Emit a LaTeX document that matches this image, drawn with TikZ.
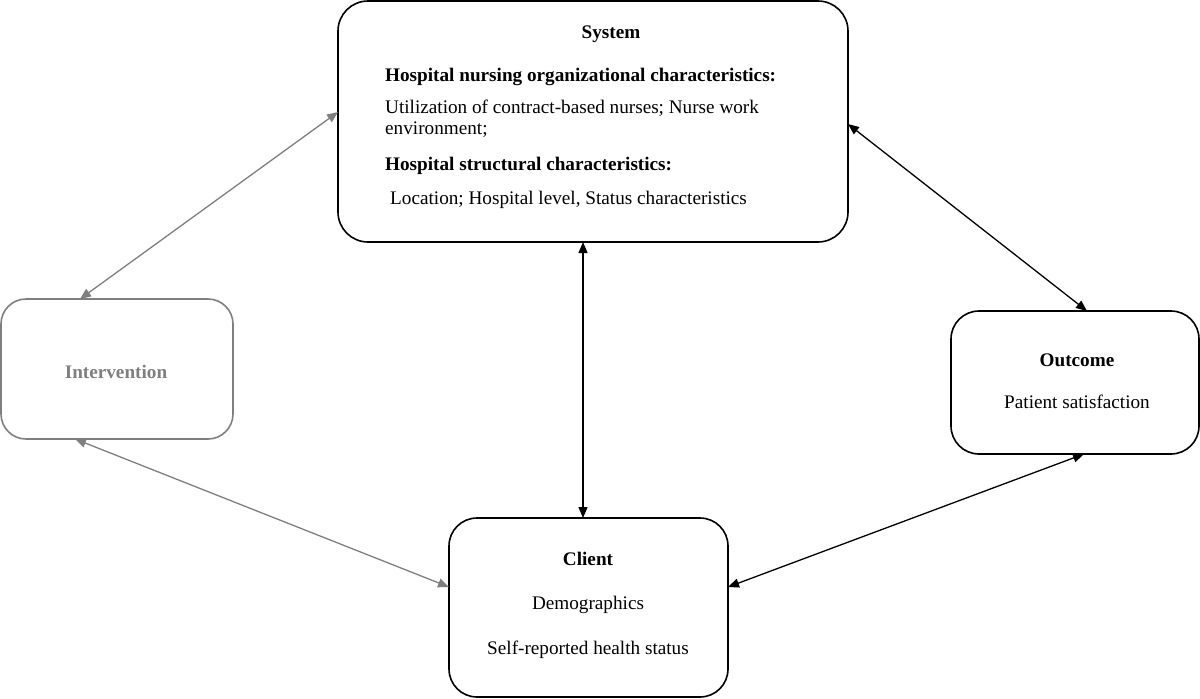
\documentclass[tikz,border=0pt]{standalone}
\usepackage{fontspec}
\setmainfont{Liberation Serif}
\usetikzlibrary{arrows.meta}
\definecolor{grayc}{HTML}{7F7F7F}
\begin{document}
\begin{tikzpicture}[x=1pt,y=-1pt,
  box/.style={draw=black,line width=1.6pt,rounded corners=30pt},
  graybox/.style={draw=grayc,line width=1.6pt,rounded corners=25pt},
  txt/.style={inner sep=0pt,font=\fontsize{19.2}{21}\selectfont},
  btxt/.style={txt,font=\fontsize{19.2}{21}\selectfont\bfseries},
  link/.style={line width=1.3pt,{Triangle[length=11pt,width=9pt]}-{Triangle[length=11pt,width=9pt]}},
  glink/.style={link,draw=grayc,fill=grayc}
]
\useasboundingbox (0,0) rectangle (1200,699);
% boxes
\draw[box] (338,1) rectangle (848,242);
\coordinate (sysL) at (338,112);
\coordinate (sysR) at (848,124);
\coordinate (sysB) at (583,242);
\draw[graybox] (1,299) rectangle (233,439);
\coordinate (intT) at (80,299);
\coordinate (intB) at (75,439);
\draw[box,rounded corners=28pt] (449,518) rectangle (728,697);
\coordinate (cliT) at (583,518);
\coordinate (cliL) at (449,587);
\coordinate (cliR) at (728,587);
\draw[box,rounded corners=28pt] (951,311) rectangle (1199,454);
\coordinate (outT) at (1087,311);
\coordinate (outB) at (1084,454);
% texts
\node[btxt,anchor=base] (sys) at (611,38) {System};
\node[btxt,anchor=base west] (s1) at (385,81) {Hospital nursing organizational characteristics:};
\node[txt,anchor=base west] (s2) at (385,113) {Utilization of contract-based nurses; Nurse work};
\node[txt,anchor=base west] (s3) at (385,134) {environment;};
\node[btxt,anchor=base west] (s4) at (385,170) {Hospital structural characteristics:};
\node[txt,anchor=base west] (s5) at (390,204) {Location; Hospital level, Status characteristics};
\node[btxt,anchor=base,text=grayc] (int) at (116,378) {Intervention};
\node[btxt,anchor=base] (cli) at (588,565) {Client};
\node[txt,anchor=base] (c1) at (588,609) {Demographics};
\node[txt,anchor=base] (c2) at (588,654) {Self-reported health status};
\node[btxt,anchor=base] (out) at (1077,366) {Outcome};
\node[txt,anchor=base] (o1) at (1077,408) {Patient satisfaction};
% connectors
\draw[glink] (sysL) -- (intT);
\draw[glink] (intB) -- (cliL);
\draw[link] (sysB) -- (cliT);
\draw[link] (sysR) -- (outT);
\draw[link] (outB) -- (cliR);
\end{tikzpicture}
\end{document}
